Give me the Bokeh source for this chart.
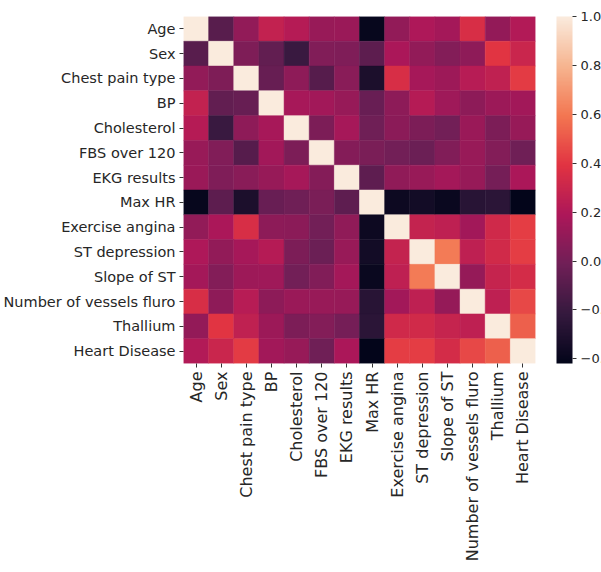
import numpy as np
from bokeh.plotting import figure
from bokeh.models import (ColumnDataSource, LinearColorMapper, ColorBar, FixedTicker,
                          FactorRange, CustomJSTickFormatter)
from bokeh.transform import transform
from bokeh.embed import file_html
from bokeh.resources import INLINE

labels = ["Age", "Sex", "Chest pain type", "BP", "Cholesterol", "FBS over 120",
          "EKG results", "Max HR", "Exercise angina", "ST depression", "Slope of ST",
          "Number of vessels fluro", "Thallium", "Heart Disease"]

age     = [1.000, -0.094, 0.097, 0.273, 0.220, 0.123, 0.128, -0.402, 0.098, 0.194, 0.160, 0.356, 0.106, 0.212]
sex     = [-0.094, 1.000, 0.034, -0.063, -0.202, 0.042, 0.039, -0.076, 0.180, 0.097, 0.050, 0.087, 0.391, 0.298]
cp      = [0.097, 0.034, 1.000, -0.043, 0.090, -0.099, 0.074, -0.318, 0.353, 0.167, 0.136, 0.225, 0.262, 0.417]
bp      = [0.273, -0.063, -0.043, 1.000, 0.173, 0.156, 0.117, -0.039, 0.083, 0.223, 0.142, 0.085, 0.132, 0.155]
chol    = [0.220, -0.202, 0.090, 0.173, 1.000, 0.025, 0.168, -0.019, 0.078, 0.028, -0.006, 0.127, 0.029, 0.118]
fbs     = [0.123, 0.042, -0.099, 0.156, 0.025, 1.000, 0.053, 0.022, -0.004, -0.026, 0.044, 0.123, 0.049, -0.016]
ekg     = [0.128, 0.039, 0.074, 0.117, 0.168, 0.053, 1.000, -0.074, 0.095, 0.120, 0.160, 0.114, 0.007, 0.182]
maxhr   = [-0.402, -0.076, -0.318, -0.039, -0.019, 0.022, -0.074, 1.000, -0.380, -0.349, -0.387, -0.265, -0.254, -0.419]
exang   = [0.098, 0.180, 0.353, 0.083, 0.078, -0.004, 0.095, -0.380, 1.000, 0.274, 0.256, 0.153, 0.321, 0.419]
stdep   = [0.194, 0.097, 0.167, 0.223, 0.028, -0.026, 0.120, -0.349, 0.274, 1.000, 0.610, 0.256, 0.324, 0.418]
slope   = [0.160, 0.050, 0.136, 0.142, -0.006, 0.044, 0.160, -0.387, 0.256, 0.610, 1.000, 0.110, 0.283, 0.338]
vessels = [0.356, 0.087, 0.225, 0.085, 0.127, 0.123, 0.114, -0.265, 0.153, 0.256, 0.110, 1.000, 0.256, 0.455]
thal    = [0.106, 0.391, 0.262, 0.132, 0.029, 0.049, 0.007, -0.254, 0.321, 0.324, 0.283, 0.256, 1.000, 0.525]
hd      = [0.212, 0.298, 0.417, 0.155, 0.118, -0.016, 0.182, -0.419, 0.419, 0.418, 0.338, 0.455, 0.525, 1.000]

rows = [age, sex, cp, bp, chol, fbs, ekg, maxhr, exang, stdep, slope, vessels, thal, hd]
cbar_ticks = [-0.4, -0.2, 0.0, 0.2, 0.4, 0.6, 0.8, 1.0]

# rocket colormap (seaborn) approximated from key stops
stops_pos = [0.0, 1/7, 2/7, 3/7, 4/7, 5/7, 6/7, 1.0]
stops_hex = ["#03051a", "#35193e", "#701f57", "#ad1759", "#e13342", "#f37651", "#f6b48f", "#faebdd"]
def h2rgb(h):
    return [int(h[i:i+2], 16) for i in (1, 3, 5)]
rgb = np.array([h2rgb(h) for h in stops_hex], dtype=float)
tt = np.linspace(0, 1, 256)
pal = []
for t in tt:
    r = np.interp(t, stops_pos, rgb[:, 0]); g = np.interp(t, stops_pos, rgb[:, 1]); b = np.interp(t, stops_pos, rgb[:, 2])
    pal.append("#%02x%02x%02x" % (int(round(r)), int(round(g)), int(round(b))))

xs, ys, vs = [], [], []
for i, row in enumerate(rows):
    for j, v in enumerate(row):
        ys.append(labels[i]); xs.append(labels[j]); vs.append(v)
src = ColumnDataSource(dict(x=xs, y=ys, v=vs))

vmin = min(vs)
mapper = LinearColorMapper(palette=pal, low=vmin, high=1.0)

FONT = "DejaVu Sans"

p = figure(x_range=FactorRange(*labels), y_range=FactorRange(*labels[::-1]),
           frame_width=352, frame_height=347, min_border_left=180, min_border_top=16,
           min_border_right=69, min_border_bottom=0,
           output_backend="svg", toolbar_location=None)
p.rect(x="x", y="y", width=1, height=1, source=src,
       fill_color=transform("v", mapper), line_color=transform("v", mapper), line_width=0.5)

p.grid.visible = False
p.outline_line_color = None
p.background_fill_color = "white"
for ax in (p.xaxis[0], p.yaxis[0]):
    ax.axis_line_color = None
    ax.major_tick_out = 4
    ax.major_tick_in = 0
    ax.major_tick_line_color = "#333333"
    ax.major_label_text_color = "#262626"
    ax.major_label_standoff = 4
p.yaxis.major_label_text_font = FONT
p.yaxis.major_label_text_font_size = "14.5px"
p.xaxis.major_label_text_font = FONT
p.xaxis.major_label_text_font_size = "16px"
p.xaxis.major_label_orientation = np.pi / 2

cb = ColorBar(color_mapper=mapper, width=16, height=347, location=(373, 0),
              padding=0, margin=0, ticker=FixedTicker(ticks=cbar_ticks),
              formatter=CustomJSTickFormatter(code="return tick.toFixed(1).replace('-', '\u2212');"),
              major_tick_in=0, major_tick_out=4, major_tick_line_color="#333333",
              major_label_text_font=FONT, major_label_text_font_size="13px",
              major_label_text_color="#262626", label_standoff=4,
              bar_line_color=None, border_line_color=None, background_fill_alpha=0)
p.add_layout(cb, "center")

open("out.html", "w").write(file_html(p, INLINE))
